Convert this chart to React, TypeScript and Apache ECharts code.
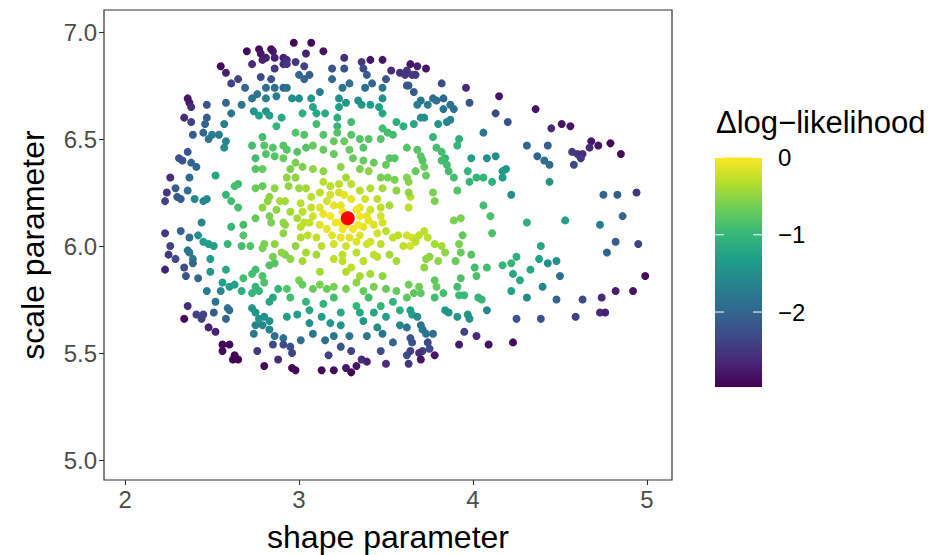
import React, { useEffect, useRef } from "react";
import * as echarts from "echarts";

// [shape parameter, scale parameter, delta log-likelihood]
const upperLeft: [number, number, number][] = [
  [2.70,6.91,-2.9],[2.77,6.92,-2.9],[2.78,6.90,-2.8],[2.84,6.92,-2.9],[2.85,6.91,-2.8],[2.81,6.88,-2.7],[2.79,6.87,-2.7],[2.86,6.88,-2.7],[2.91,6.88,-2.7],[2.55,6.84,-2.9],[2.58,6.81,-2.7],[2.73,6.85,-2.6],[2.86,6.83,-2.5],[2.91,6.85,-2.6],[2.65,6.78,-2.4],[2.61,6.76,-2.4],[2.78,6.79,-2.3],[2.84,6.78,-2.2],[2.69,6.74,-2.0],[2.81,6.74,-1.9],[2.86,6.74,-1.9],[2.91,6.74,-2.0],[2.76,6.71,-1.8],[2.73,6.69,-1.8],[2.81,6.69,-1.7],[2.87,6.70,-1.7],[2.36,6.69,-2.8],[2.37,6.67,-2.8],[2.38,6.65,-2.6],[2.47,6.66,-2.2],[2.58,6.67,-2.0],[2.67,6.66,-1.8],[2.34,6.60,-2.6],[2.38,6.58,-2.4],[2.47,6.60,-2.1],[2.61,6.62,-1.8],[2.46,6.57,-2.0],[2.45,6.53,-2.0],[2.39,6.52,-2.1],[2.57,6.57,-1.7],[2.54,6.52,-1.7],[2.50,6.52,-1.7],[2.48,6.50,-1.8],[2.58,6.49,-1.6],[2.74,6.63,-1.4],[2.77,6.61,-1.3],[2.81,6.63,-1.4],[2.83,6.61,-1.3],[2.90,6.60,-1.2],[2.87,6.56,-1.0],[2.79,6.51,-0.9],[2.80,6.47,-0.8],[2.73,6.47,-0.9],[2.85,6.46,-0.8]
];

const upperMiddle: [number, number, number][] = [
  [2.97,6.95,-2.9],[3.07,6.95,-2.9],[3.14,6.91,-2.8],[2.93,6.87,-2.6],[2.93,6.85,-2.5],[2.98,6.86,-2.5],[3.04,6.90,-2.7],[3.03,6.84,-2.4],[3.26,6.88,-2.6],[3.36,6.86,-2.5],[3.41,6.87,-2.8],[3.48,6.87,-2.8],[3.19,6.83,-2.2],[3.26,6.83,-2.2],[3.37,6.83,-2.3],[3.39,6.80,-2.1],[3.00,6.80,-2.0],[3.06,6.80,-2.1],[3.03,6.78,-2.0],[3.19,6.78,-2.0],[2.93,6.74,-1.9],[3.53,6.82,-2.6],[3.58,6.81,-2.6],[3.61,6.80,-2.5],[3.50,6.78,-2.2],[3.42,6.76,-2.0],[3.38,6.74,-1.9],[3.29,6.76,-1.9],[3.25,6.74,-1.8],[3.12,6.72,-1.7],[3.63,6.75,-2.0],[3.48,6.74,-1.8],[2.96,6.69,-1.5],[3.00,6.69,-1.5],[3.07,6.69,-1.4],[3.23,6.69,-1.5],[3.27,6.67,-1.4],[3.34,6.68,-1.5],[3.36,6.66,-1.4],[3.41,6.66,-1.3],[3.48,6.69,-1.5],[3.46,6.65,-1.3],[3.48,6.62,-1.2],[3.08,6.65,-1.2],[3.10,6.62,-1.2],[3.15,6.62,-1.2],[3.23,6.65,-1.3],[3.22,6.60,-1.1],[3.02,6.62,-1.1],[3.10,6.57,-0.9],[3.30,6.58,-0.9],[3.22,6.56,-1.0],[3.56,6.58,-1.1],[3.60,6.56,-1.1],[3.48,6.55,-0.9],[3.54,6.52,-0.9],[3.51,6.53,-0.9],[2.98,6.53,-0.8],[3.03,6.52,-0.8],[3.14,6.52,-0.8],[3.22,6.53,-0.8],[3.30,6.52,-0.8],[3.35,6.50,-0.8],[3.40,6.50,-0.8],[3.47,6.50,-0.8],[3.20,6.49,-0.7],[3.26,6.49,-0.7],[3.08,6.47,-0.7],[2.91,6.47,-0.8]
];

const upperRight: [number, number, number][] = [
  [3.64,6.85,-2.8],[3.68,6.84,-2.7],[3.73,6.83,-2.8],[3.62,6.82,-2.5],[3.65,6.80,-2.5],[3.67,6.80,-2.5],[3.62,6.75,-2.2],[3.66,6.72,-2.1],[3.82,6.76,-2.3],[3.96,6.74,-2.6],[4.15,6.70,-2.8],[4.36,6.64,-2.8],[3.98,6.67,-2.2],[4.13,6.62,-2.3],[4.20,6.58,-2.2],[3.70,6.68,-1.8],[3.68,6.66,-1.7],[3.74,6.66,-1.7],[3.77,6.69,-1.9],[3.79,6.68,-1.9],[3.83,6.69,-2.0],[3.83,6.64,-1.8],[3.87,6.66,-1.8],[3.89,6.64,-1.9],[3.70,6.60,-1.5],[3.72,6.60,-1.5],[3.66,6.57,-1.2],[3.80,6.57,-1.4],[3.85,6.58,-1.6],[3.87,6.59,-1.6],[4.06,6.53,-1.8],[3.77,6.51,-1.0],[3.92,6.50,-1.1],[3.91,6.47,-1.0],[4.31,6.47,-2.0],[3.62,6.46,-0.8],[3.68,6.45,-0.8],[3.79,6.46,-0.9],
  [4.45,6.55,-2.6],[4.51,6.57,-2.8],[4.56,6.56,-2.8],[4.68,6.49,-2.8],[4.72,6.47,-2.8],[4.79,6.48,-2.9],[4.43,6.47,-2.1],[4.67,6.46,-2.6]
];

const farRight: [number, number, number][] = [
  [4.57,6.44,-2.5],[4.60,6.43,-2.5],[4.63,6.43,-2.6],[4.62,6.41,-2.5],[4.85,6.43,-2.9],[4.37,6.42,-2.0],[4.41,6.40,-1.9],[4.44,6.38,-1.9],[4.58,6.38,-2.3],[4.44,6.30,-1.4],[4.75,6.24,-2.0],[4.83,6.24,-2.1],[4.94,6.25,-2.5],[4.86,6.14,-2.0],[4.53,6.12,-1.3],[4.73,6.10,-1.7],[4.39,6.00,-1.2],[4.82,6.02,-2.1],[4.95,6.01,-2.4],[4.77,5.97,-2.0],[4.38,5.94,-1.3],[4.48,5.93,-1.5],
  [4.43,5.92,-1.5],[4.50,5.86,-1.9],[4.40,5.81,-1.6],[4.48,5.75,-2.0],[4.63,5.75,-2.3],[4.59,5.67,-2.4],[4.73,5.69,-2.6],[4.76,5.69,-2.7],[4.74,5.76,-2.6],[4.82,5.79,-2.7],[4.92,5.79,-2.8],[4.99,5.86,-2.9],[4.39,5.66,-2.2]
];

const middleRight: [number, number, number][] = [
  [3.82,6.44,-0.9],[3.84,6.41,-1.0],[3.70,6.42,-0.8],[3.71,6.40,-0.8],[3.72,6.37,-0.7],[3.67,6.35,-0.7],[3.73,6.33,-0.7],[3.82,6.40,-0.9],[3.85,6.38,-0.9],[3.86,6.35,-0.9],[3.89,6.32,-0.9],[3.99,6.41,-1.3],[4.08,6.41,-1.5],[4.13,6.42,-1.5],[3.97,6.35,-1.0],[3.98,6.30,-1.0],[4.02,6.32,-1.0],[4.06,6.32,-1.0],[4.11,6.30,-1.1],[4.17,6.35,-1.4],[4.19,6.36,-1.4],[4.17,6.32,-1.3],[4.22,6.24,-1.5],[3.62,6.32,-0.55],[3.63,6.30,-0.55],[3.64,6.23,-0.3],[3.63,6.18,-0.3],[3.77,6.25,-0.6],[3.78,6.21,-0.6],[3.91,6.26,-0.8],[4.06,6.19,-0.9],[4.10,6.14,-0.85],[4.11,6.06,-0.85],[4.31,6.11,-1.1],[3.89,6.12,-0.6],[3.93,6.13,-0.6],[3.94,6.05,-0.75],[3.62,6.05,-0.2],[3.65,6.04,-0.2],[3.69,6.05,-0.3],[3.72,6.07,-0.3],[3.74,6.04,-0.3],[3.67,6.02,-0.3],[3.78,6.01,-0.4],[3.82,6.00,-0.4],[3.84,5.97,-0.5],[3.92,6.01,-0.6],[3.93,5.97,-0.7],[3.99,5.96,-0.8],[3.75,5.95,-0.5],[4.25,5.95,-1.1],[3.64,6.00,-0.2]
];

const centre: [number, number, number][] = [
  [2.93,6.45,-0.8],[2.99,6.44,-0.8],[3.04,6.46,-0.8],[3.14,6.45,-0.7],[3.20,6.43,-0.7],[3.29,6.45,-0.7],[3.37,6.46,-0.8],[3.31,6.41,-0.7],[3.37,6.40,-0.7],[3.43,6.39,-0.7],[3.52,6.41,-0.8],[3.55,6.41,-0.8],[3.50,6.38,-0.7],[2.91,6.41,-0.7],[2.98,6.39,-0.6],[3.02,6.37,-0.6],[2.95,6.36,-0.6],[3.08,6.36,-0.5],[3.14,6.35,-0.5],[3.24,6.37,-0.5],[3.35,6.36,-0.6],[3.40,6.35,-0.5],[3.47,6.32,-0.6],[3.51,6.32,-0.6],[3.55,6.31,-0.6],[2.93,6.32,-0.5],[2.98,6.32,-0.5],[2.94,6.28,-0.5],[3.14,6.30,-0.3],[3.18,6.28,-0.3],[3.23,6.29,-0.3],[3.27,6.32,-0.4],[3.30,6.29,-0.3],[3.35,6.26,-0.3],[3.12,6.25,-0.3],[3.23,6.25,-0.2],[3.26,6.24,-0.1],[3.30,6.22,-0.1],[3.38,6.22,-0.2],[3.45,6.22,-0.3],[3.07,6.23,-0.3],[3.16,6.21,-0.2],[3.20,6.19,-0.1],[3.24,6.19,-0.1],[3.35,6.18,-0.1],[3.41,6.17,-0.2],[3.47,6.18,-0.3],[3.52,6.19,-0.4],[3.56,6.26,-0.5],[3.63,6.25,-0.5],[2.92,6.21,-0.4],[2.95,6.16,-0.4],[3.02,6.16,-0.3],[3.08,6.14,-0.2],[3.14,6.15,-0.1],[3.18,6.14,-0.05],[3.21,6.11,-0.05],[3.35,6.14,-0.05],[3.40,6.12,-0.1],[3.47,6.14,-0.2],[3.25,6.08,-0.05],[3.31,6.08,-0.05],[3.37,6.09,-0.1],[3.12,6.10,-0.15],[3.03,6.11,-0.3],[2.99,6.13,-0.4],[3.01,6.09,-0.3],[2.92,6.10,-0.5],[2.91,6.06,-0.5],[3.05,6.05,-0.3],[3.19,6.05,-0.15],[3.24,6.04,-0.1],[3.29,6.04,-0.1],[3.35,6.05,-0.15],[3.45,6.06,-0.2],[3.50,6.07,-0.3],[3.57,6.05,-0.3],[3.54,6.04,-0.3],[2.98,6.00,-0.5],[3.13,6.00,-0.3],[3.20,6.01,-0.2],[3.27,6.00,-0.2],[3.39,6.01,-0.2],[3.47,6.01,-0.3],[3.60,6.00,-0.3],[2.92,5.96,-0.6],[3.04,5.97,-0.4],[3.10,5.96,-0.4],[3.25,5.96,-0.3],[3.33,5.97,-0.3],[3.43,5.96,-0.3],[3.52,5.96,-0.4],
  [3.25,6.16,-0.02],[3.33,6.17,-0.05],[3.27,6.10,-0.03],[3.24,6.11,-0.03],[3.34,6.10,-0.05],[3.39,6.14,-0.1],[3.12,6.18,-0.15],[3.07,6.18,-0.25],[3.01,6.20,-0.3],[3.06,6.11,-0.25],[3.16,6.08,-0.1],[3.43,6.10,-0.15],[3.48,6.11,-0.2],[3.41,6.02,-0.2],[3.33,6.02,-0.15],[3.10,6.04,-0.25],[3.01,6.04,-0.35],[3.18,6.24,-0.2],[3.41,6.27,-0.35],[3.48,6.27,-0.4],[3.04,6.27,-0.4],[3.00,6.27,-0.45]
];

const middleLeft: [number, number, number][] = [
  [2.57,6.46,-1.5],[2.75,6.41,-0.9],[2.81,6.43,-0.8],[2.86,6.42,-0.8],[2.75,6.36,-0.8],[2.79,6.36,-0.7],[2.36,6.44,-2.2],[2.31,6.41,-2.2],[2.33,6.40,-2.2],[2.38,6.39,-2.0],[2.41,6.37,-2.0],[2.26,6.32,-2.6],[2.37,6.32,-1.9],[2.52,6.33,-1.2],[2.29,6.27,-2.1],[2.24,6.25,-2.5],[2.30,6.23,-2.1],[2.32,6.22,-2.1],[2.23,6.21,-2.4],[2.36,6.26,-1.9],[2.40,6.22,-1.6],[2.45,6.21,-1.6],[2.47,6.22,-1.6],[2.58,6.24,-1.0],[2.63,6.28,-0.9],[2.65,6.29,-0.9],[2.61,6.21,-0.9],[2.65,6.18,-0.9],[2.75,6.27,-0.7],[2.79,6.28,-0.7],[2.83,6.23,-0.5],[2.82,6.21,-0.5],[2.79,6.18,-0.5],[2.86,6.27,-0.5],[2.89,6.21,-0.4],[2.87,6.17,-0.5],[2.75,6.13,-0.7],[2.83,6.14,-0.6],[2.84,6.11,-0.6],[2.91,6.11,-0.5],[2.68,6.10,-0.9],[2.61,6.09,-1.0],[2.44,6.11,-1.6],[2.23,6.06,-2.5],[2.32,6.07,-2.0],[2.37,6.04,-1.9],[2.42,6.05,-1.5],[2.45,6.02,-1.3],[2.48,6.01,-1.3],[2.51,6.00,-1.3],[2.59,6.01,-1.0],[2.67,6.00,-0.9],[2.72,6.00,-0.8],[2.68,6.05,-0.8],[2.80,6.01,-0.6],[2.79,5.99,-0.6],[2.86,6.01,-0.5],[2.90,5.97,-0.5],[2.26,6.00,-2.4],[2.25,5.96,-2.5],[2.36,5.98,-1.8],[2.37,5.97,-1.8],[2.39,5.94,-1.7],[2.29,5.94,-2.3],[2.85,5.95,-0.6]
];

const lowerLeft: [number, number, number][] = [
  [2.23,5.89,-2.7],[2.34,5.90,-2.3],[2.35,5.86,-2.2],[2.39,5.92,-2.0],[2.42,5.85,-2.0],[2.49,5.94,-1.3],[2.49,5.88,-1.4],[2.58,5.89,-1.2],[2.56,5.83,-1.3],[2.60,5.81,-1.3],[2.63,5.82,-1.3],[2.47,5.79,-1.7],[2.55,5.79,-1.6],[2.67,5.79,-1.1],[2.68,5.85,-0.9],[2.73,5.87,-0.9],[2.75,5.89,-0.9],[2.79,5.86,-0.85],[2.80,5.83,-0.85],[2.83,5.91,-0.8],[2.86,5.92,-0.8],[2.75,5.81,-1.0],[2.77,5.79,-1.0],[2.73,5.78,-1.0],[2.88,5.80,-1.0],[2.85,5.76,-1.2],[2.83,5.74,-1.2],[2.52,5.74,-1.8],[2.36,5.72,-2.6],[2.59,5.71,-1.9],[2.60,5.70,-1.9],[2.51,5.69,-2.1],[2.41,5.68,-2.4],[2.45,5.68,-2.4],[2.44,5.66,-2.4],[2.34,5.66,-2.9],[2.58,5.66,-2.0],[2.73,5.71,-1.4],[2.75,5.69,-1.4],[2.77,5.66,-1.4],[2.80,5.67,-1.5],[2.83,5.65,-1.5],[2.75,5.63,-1.6],[2.79,5.63,-1.6],[2.74,5.59,-1.8],[2.83,5.61,-1.6],[2.86,5.58,-1.9],[2.91,5.57,-1.9],[2.85,5.54,-2.3],[2.48,5.62,-2.7],[2.52,5.60,-2.7],[2.56,5.54,-2.9],[2.60,5.54,-2.9],[2.56,5.51,-2.9],[2.63,5.49,-2.95],[2.62,5.47,-2.95],[2.65,5.47,-2.95],[2.76,5.51,-2.5],[2.80,5.44,-2.9],[2.88,5.47,-2.6],[2.91,5.54,-2.3]
];

const lowerMiddle: [number, number, number][] = [
  [2.95,5.94,-0.5],[3.02,5.93,-0.4],[3.20,5.94,-0.3],[3.25,5.93,-0.3],[3.30,5.90,-0.3],[3.37,5.93,-0.3],[3.45,5.95,-0.3],[3.56,5.93,-0.4],[3.12,5.88,-0.4],[3.27,5.88,-0.35],[3.35,5.86,-0.4],[3.41,5.87,-0.4],[3.48,5.86,-0.5],[3.00,5.84,-0.6],[3.02,5.82,-0.7],[3.08,5.80,-0.7],[3.12,5.82,-0.6],[3.16,5.80,-0.7],[3.20,5.81,-0.6],[3.27,5.80,-0.6],[3.33,5.83,-0.5],[3.37,5.79,-0.7],[3.43,5.81,-0.6],[3.50,5.80,-0.7],[3.56,5.79,-0.7],[2.93,5.80,-0.8],[2.95,5.76,-0.9],[3.04,5.74,-1.0],[3.14,5.73,-1.0],[3.20,5.76,-0.9],[3.33,5.72,-1.0],[3.40,5.76,-0.9],[3.47,5.72,-1.0],[3.54,5.74,-1.0],[3.58,5.70,-1.1],[2.93,5.67,-1.3],[2.99,5.68,-1.3],[3.06,5.70,-1.2],[3.13,5.67,-1.3],[3.24,5.69,-1.2],[3.35,5.69,-1.2],[3.43,5.69,-1.2],[3.50,5.67,-1.3],[3.06,5.64,-1.5],[3.18,5.64,-1.4],[3.24,5.63,-1.4],[3.37,5.65,-1.4],[3.45,5.62,-1.5],[3.58,5.63,-1.6],[3.01,5.56,-1.9],[3.08,5.59,-1.8],[3.15,5.56,-1.9],[3.20,5.58,-1.8],[3.29,5.58,-1.8],[3.39,5.58,-1.8],[3.48,5.59,-1.8],[3.54,5.55,-2.0],[2.95,5.53,-2.2],[2.96,5.50,-2.4],[3.17,5.49,-2.4],[3.24,5.53,-2.2],[3.30,5.51,-2.4],[3.36,5.47,-2.6],[3.47,5.51,-2.3],[3.39,5.46,-2.7],[3.33,5.44,-2.8],[3.50,5.45,-2.6],[2.96,5.43,-2.95],[2.98,5.42,-2.95],[3.13,5.42,-2.9],[3.20,5.42,-2.9],[3.27,5.43,-2.8],[3.30,5.41,-2.95],[3.62,5.49,-2.3],[3.63,5.45,-2.5]
];

const lowerRight: [number, number, number][] = [
  [3.73,5.94,-0.5],[3.80,5.93,-0.5],[3.72,5.90,-0.5],[3.90,5.93,-0.7],[4.01,5.90,-0.9],[4.08,5.90,-0.9],[4.17,5.91,-1.0],[4.22,5.92,-1.0],[4.23,5.87,-1.2],[4.27,5.84,-1.2],[4.33,5.89,-1.2],[3.93,5.85,-0.85],[4.02,5.86,-0.85],[3.78,5.84,-0.75],[3.79,5.81,-0.7],[3.63,5.82,-0.65],[3.69,5.81,-0.65],[3.66,5.78,-0.75],[3.62,5.76,-0.75],[3.70,5.78,-0.75],[3.78,5.76,-0.9],[3.83,5.78,-0.9],[3.91,5.81,-0.9],[3.92,5.77,-0.95],[3.95,5.77,-0.95],[4.03,5.76,-1.0],[4.05,5.75,-1.0],[4.22,5.79,-1.3],[4.31,5.76,-1.55],[4.08,5.70,-1.6],[3.84,5.70,-1.4],[3.86,5.69,-1.4],[3.91,5.67,-1.4],[3.97,5.68,-1.4],[3.98,5.66,-1.5],[3.64,5.70,-1.3],[3.65,5.68,-1.3],[3.68,5.67,-1.5],[3.62,5.62,-1.8],[3.70,5.63,-1.8],[3.71,5.61,-1.8],[3.73,5.59,-1.8],[3.77,5.59,-1.9],[3.64,5.57,-2.2],[3.65,5.55,-2.2],[3.74,5.55,-2.3],[3.75,5.52,-2.3],[3.71,5.51,-2.4],[3.69,5.50,-2.6],[3.64,5.51,-2.4],[3.70,5.47,-2.8],[3.78,5.49,-2.8],[3.95,5.60,-2.4],[4.02,5.58,-2.6],[3.92,5.54,-2.75],[4.09,5.54,-2.85],[4.23,5.55,-2.9],[4.25,5.66,-2.2]
];

const bestFit: [number, number] = [3.28, 6.13];

const xTicks = [2, 3, 4, 5];
const yTicks = [5.0, 5.5, 6.0, 6.5, 7.0];
const legendTicks = [0, -1, -2];
const legendLabels = ["0", "\u22121", "\u22122"];
const llMin = -2.97;
const llMax = 0;

const viridis = [
  "#440154", "#482878", "#3E4A89", "#31688E", "#26828E",
  "#1F9E89", "#35B779", "#6DCD59", "#B4DE2C", "#FDE725",
];

const FONT = "'Liberation Sans', Arial, Helvetica, sans-serif";

export default function App() {
  const ref = useRef<HTMLDivElement>(null);

  useEffect(() => {
    if (!ref.current) return;
    const chart = echarts.init(ref.current, null, { renderer: "svg" });

    const points = [
      ...upperLeft, ...upperMiddle, ...upperRight, ...farRight, ...middleRight,
      ...centre, ...middleLeft, ...lowerLeft, ...lowerMiddle, ...lowerRight,
    ];

    const cbX = 715;
    const cbY = 157.5;
    const cbW = 47;
    const cbH = 229.5;
    const vToY = (v: number) => cbY + ((llMax - v) / (llMax - llMin)) * cbH;

    const stops = viridis
      .map((c, i) => ({ offset: 1 - i / (viridis.length - 1), color: c }))
      .reverse();

    const legendGraphics: any[] = [
      {
        type: "rect",
        shape: { x: cbX, y: cbY, width: cbW, height: cbH },
        style: { fill: new echarts.graphic.LinearGradient(0, 0, 0, 1, stops) },
        silent: true,
      },
    ];
    legendTicks.forEach((t, i) => {
      const y = vToY(t);
      legendGraphics.push(
        {
          type: "line",
          shape: { x1: cbX, y1: y, x2: cbX + 9, y2: y },
          style: { stroke: "#ffffff", lineWidth: 1 },
          silent: true,
        },
        {
          type: "line",
          shape: { x1: cbX + cbW - 9, y1: y, x2: cbX + cbW, y2: y },
          style: { stroke: "#ffffff", lineWidth: 1 },
          silent: true,
        },
        {
          type: "text",
          x: 778,
          y: y,
          style: {
            text: legendLabels[i],
            fontSize: 24,
            fontFamily: FONT,
            fill: "#000000",
            textAlign: "left",
            textVerticalAlign: "middle",
          },
          silent: true,
        }
      );
    });

    chart.setOption({
      animation: false,
      backgroundColor: "#ffffff",
      grid: {
        left: 104,
        top: 10,
        width: 568,
        height: 470,
        show: true,
        borderColor: "#333333",
        borderWidth: 1.2,
        backgroundColor: "transparent",
      },
      xAxis: {
        type: "value",
        min: 1.879,
        max: 5.144,
        splitLine: { show: false },
        axisLine: { show: false },
        axisTick: {
          show: true,
          length: 5,
          customValues: xTicks,
          lineStyle: { color: "#333333", width: 1.1 },
        },
        axisLabel: {
          customValues: xTicks,
          color: "#4D4D4D",
          fontSize: 24,
          fontFamily: FONT,
          margin: 7,
          formatter: (v: number) => String(v),
        },
      },
      yAxis: {
        type: "value",
        min: 4.907,
        max: 7.103,
        splitLine: { show: false },
        axisLine: { show: false },
        axisTick: {
          show: true,
          length: 5,
          customValues: yTicks,
          lineStyle: { color: "#333333", width: 1.1 },
        },
        axisLabel: {
          customValues: yTicks,
          color: "#4D4D4D",
          fontSize: 24,
          fontFamily: FONT,
          margin: 7,
          formatter: (v: number) => v.toFixed(1),
        },
      },
      visualMap: {
        show: false,
        type: "continuous",
        dimension: 2,
        seriesIndex: 0,
        min: llMin,
        max: llMax,
        inRange: { color: viridis },
      },
      series: [
        {
          type: "scatter",
          data: points,
          symbol: "circle",
          symbolSize: 8,
          itemStyle: { opacity: 1 },
          silent: true,
        },
        {
          type: "scatter",
          data: [bestFit],
          symbol: "circle",
          symbolSize: 14,
          itemStyle: { color: "#FF0000", opacity: 1 },
          z: 5,
          silent: true,
        },
      ],
      graphic: [
        {
          type: "text",
          x: 388,
          y: 537,
          style: {
            text: "shape parameter",
            fontSize: 32,
            fontFamily: FONT,
            fill: "#000000",
            textAlign: "center",
            textVerticalAlign: "middle",
          },
          silent: true,
        },
        {
          type: "text",
          x: 33,
          y: 245,
          rotation: Math.PI / 2,
          style: {
            text: "scale parameter",
            fontSize: 32,
            fontFamily: FONT,
            fill: "#000000",
            textAlign: "center",
            textVerticalAlign: "middle",
          },
          silent: true,
        },
        {
          type: "text",
          x: 716,
          y: 122,
          style: {
            text: "\u0394log\u2212likelihood",
            fontSize: 31,
            fontFamily: FONT,
            fill: "#000000",
            textAlign: "left",
            textVerticalAlign: "middle",
          },
          silent: true,
        },
        ...legendGraphics,
      ],
    });

    return () => chart.dispose();
  }, []);

  return (
    <div
      ref={ref}
      style={{ position: "absolute", left: 0, top: 0, width: 932, height: 555 }}
    />
  );
}
